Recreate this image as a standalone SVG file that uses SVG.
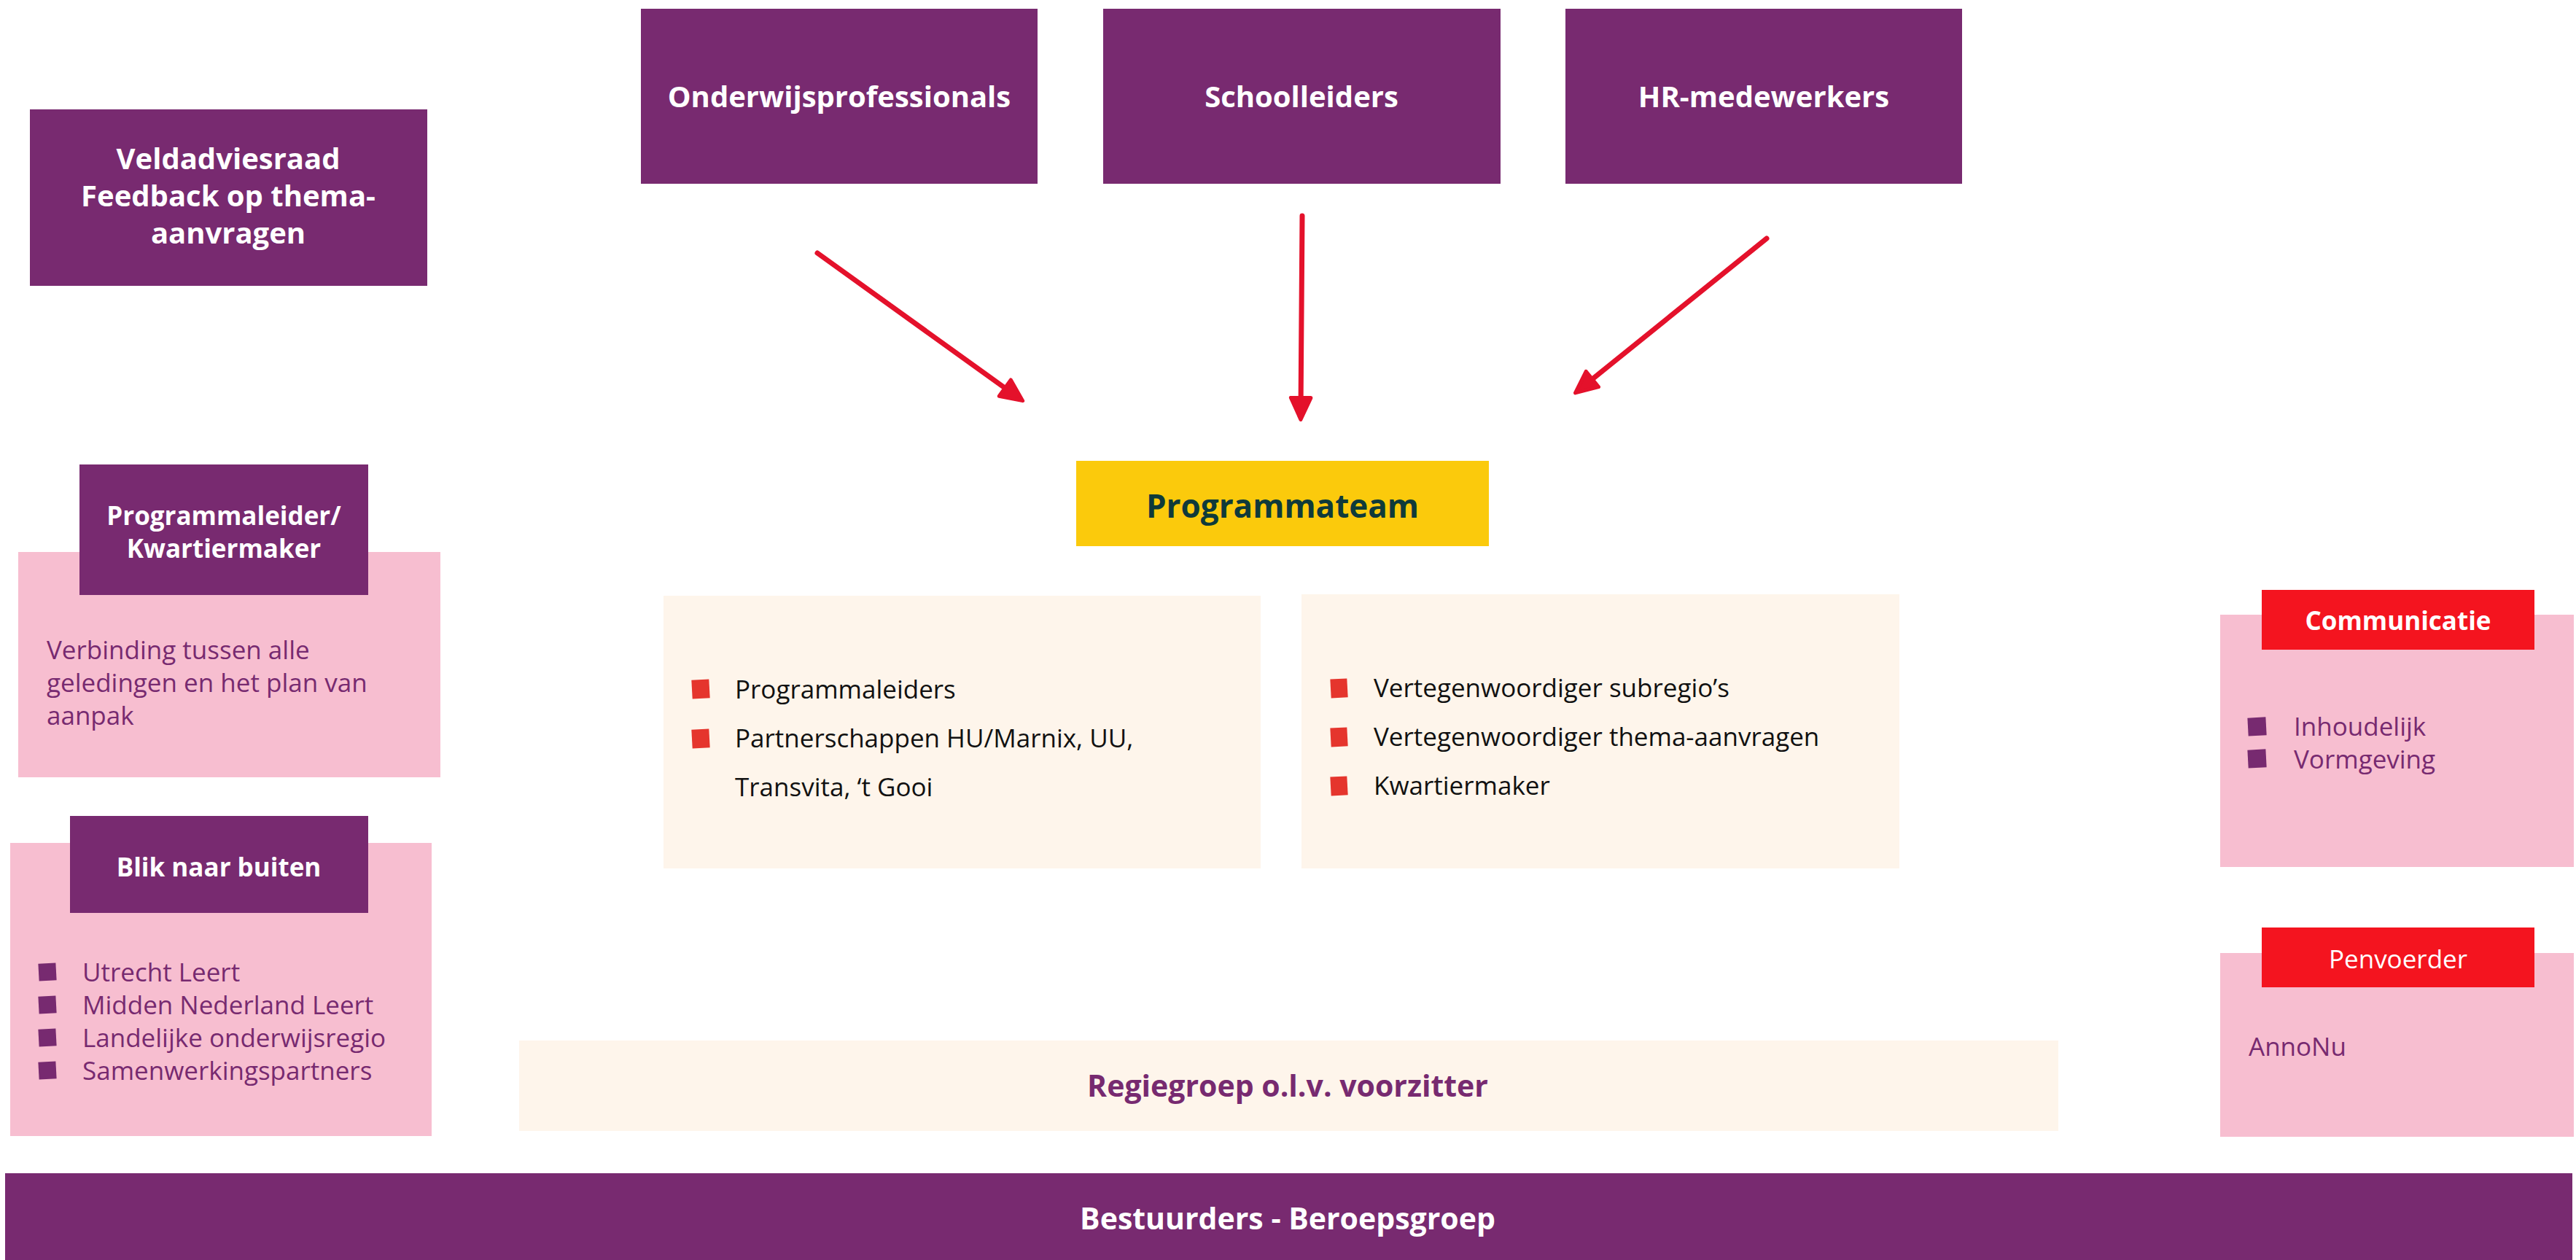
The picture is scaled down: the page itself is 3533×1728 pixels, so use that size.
<svg xmlns="http://www.w3.org/2000/svg" width="3533" height="1728" viewBox="0 0 3533 1728">
<style>
.purple{fill:#782a70}
.pink{fill:#f7bed0}
.cream{fill:#fef5eb}
.redbox{fill:#f4141f}
.yellow{fill:#fbca0c}
text{font-family:"Open Sans","Liberation Sans",sans-serif}
.hb{font-weight:700;font-size:40px;fill:#ffffff;text-anchor:middle}
.hs{font-weight:700;font-size:35px;fill:#ffffff;text-anchor:middle}
.pt{font-size:35px;fill:#772a70}
.bt{font-size:35px;fill:#111111}
.rb{fill:#e5352d}
.pb{fill:#772a70}
.arrow{stroke:#e4112b;stroke-width:7;fill:none;stroke-linecap:round}
</style>
<defs>
<marker id="head" markerUnits="userSpaceOnUse" markerWidth="40" markerHeight="40" viewBox="-4 -4 32 30" refX="6" refY="11" orient="auto">
<path d="M0,0 L24,11 L0,22 Z" fill="#e4112b" stroke="#e4112b" stroke-width="4" stroke-linejoin="round"/>
</marker>
</defs>
<rect width="3533" height="1728" fill="#ffffff"/>

<g id="veldadviesraad">
<rect class="purple" x="41" y="150" width="545" height="242"/>
<text class="hb" x="313" y="232">Veldadviesraad</text>
<text class="hb" x="313" y="283">Feedback op thema-</text>
<text class="hb" x="313" y="334">aanvragen</text>
</g>

<g id="onderwijsprofessionals">
<rect class="purple" x="879" y="12" width="544" height="240"/>
<text class="hb" x="1151" y="147">Onderwijsprofessionals</text>
</g>
<g id="schoolleiders">
<rect class="purple" x="1513" y="12" width="545" height="240"/>
<text class="hb" x="1785" y="147">Schoolleiders</text>
</g>
<g id="hr-medewerkers">
<rect class="purple" x="2147" y="12" width="544" height="240"/>
<text class="hb" x="2419" y="147">HR-medewerkers</text>
</g>

<g id="connectors">
<line class="arrow" x1="1121" y1="347" x2="1384.4" y2="536.5" marker-end="url(#head)"/>
<line class="arrow" x1="1786" y1="296" x2="1784.1" y2="553" marker-end="url(#head)"/>
<line class="arrow" x1="2423" y1="327" x2="2178" y2="524.7" marker-end="url(#head)"/>
</g>

<g id="programmateam">
<rect class="yellow" x="1476" y="632" width="566" height="117"/>
<text x="1759" y="710" text-anchor="middle" font-weight="700" font-size="44" fill="#0f3a3a">Programmateam</text>
</g>

<g id="programmateam-lijst-1">
<rect class="cream" x="910" y="817" width="819" height="374"/>
<rect class="rb" x="949" y="932" width="24" height="26" transform="rotate(-3 961 945)"/>
<text class="bt" x="1008" y="958">Programmaleiders</text>
<rect class="rb" x="949" y="1000" width="24" height="26" transform="rotate(-3 961 1013)"/>
<text class="bt" x="1008" y="1025">Partnerschappen HU/Marnix, UU,</text>
<text class="bt" x="1008" y="1092">Transvita, ‘t Gooi</text>
</g>

<g id="programmateam-lijst-2">
<rect class="cream" x="1785" y="815" width="820" height="376"/>
<rect class="rb" x="1825" y="931" width="23" height="26" transform="rotate(-3 1836 944)"/>
<text class="bt" x="1884" y="956">Vertegenwoordiger subregio’s</text>
<rect class="rb" x="1825" y="998" width="23" height="26" transform="rotate(-3 1836 1011)"/>
<text class="bt" x="1884" y="1023">Vertegenwoordiger thema-aanvragen</text>
<rect class="rb" x="1825" y="1065" width="23" height="26" transform="rotate(-3 1836 1078)"/>
<text class="bt" x="1884" y="1090">Kwartiermaker</text>
</g>

<g id="programmaleider">
<rect class="pink" x="25" y="757" width="579" height="309"/>
<rect class="purple" x="109" y="637" width="396" height="179"/>
<text class="hs" x="307" y="720">Programmaleider/</text>
<text class="hs" x="307" y="765">Kwartiermaker</text>
<text class="pt" x="64" y="904">Verbinding tussen alle</text>
<text class="pt" x="64" y="949">geledingen en het plan van</text>
<text class="pt" x="64" y="994">aanpak</text>
</g>

<g id="blik-naar-buiten">
<rect class="pink" x="14" y="1156" width="578" height="402"/>
<rect class="purple" x="96" y="1119" width="409" height="133"/>
<text class="hs" x="300" y="1202">Blik naar buiten</text>
<rect class="pb" x="53" y="1321" width="24" height="24" transform="rotate(-3 65 1333)"/>
<text class="pt" x="113" y="1346">Utrecht Leert</text>
<rect class="pb" x="53" y="1366" width="24" height="24" transform="rotate(-3 65 1378)"/>
<text class="pt" x="113" y="1391">Midden Nederland Leert</text>
<rect class="pb" x="53" y="1411" width="24" height="24" transform="rotate(-3 65 1423)"/>
<text class="pt" x="113" y="1436">Landelijke onderwijsregio</text>
<rect class="pb" x="53" y="1456" width="24" height="24" transform="rotate(-3 65 1468)"/>
<text class="pt" x="113" y="1481">Samenwerkingspartners</text>
</g>

<g id="communicatie">
<rect class="pink" x="3045" y="843" width="485" height="346"/>
<rect class="redbox" x="3102" y="809" width="374" height="82"/>
<text class="hs" x="3289" y="864">Communicatie</text>
<rect class="pb" x="3083" y="984" width="25" height="25" transform="rotate(-3 3095 996)"/>
<text class="pt" x="3146" y="1009">Inhoudelijk</text>
<rect class="pb" x="3083" y="1028" width="25" height="25" transform="rotate(-3 3095 1040)"/>
<text class="pt" x="3146" y="1054">Vormgeving</text>
</g>

<g id="penvoerder">
<rect class="pink" x="3045" y="1307" width="485" height="252"/>
<rect class="redbox" x="3102" y="1272" width="374" height="82"/>
<text x="3289" y="1328" text-anchor="middle" font-size="35" fill="#ffffff">Penvoerder</text>
<text class="pt" x="3084" y="1448">AnnoNu</text>
</g>

<g id="regiegroep">
<rect class="cream" x="712" y="1427" width="2111" height="124"/>
<text x="1766" y="1504" text-anchor="middle" font-weight="700" font-size="41" fill="#772a70">Regiegroep o.l.v. voorzitter</text>
</g>

<g id="bestuurders">
<rect class="purple" x="7" y="1609" width="3521" height="119"/>
<text x="1766" y="1686" text-anchor="middle" font-weight="700" font-size="41" fill="#ffffff">Bestuurders - Beroepsgroep</text>
</g>
</svg>
